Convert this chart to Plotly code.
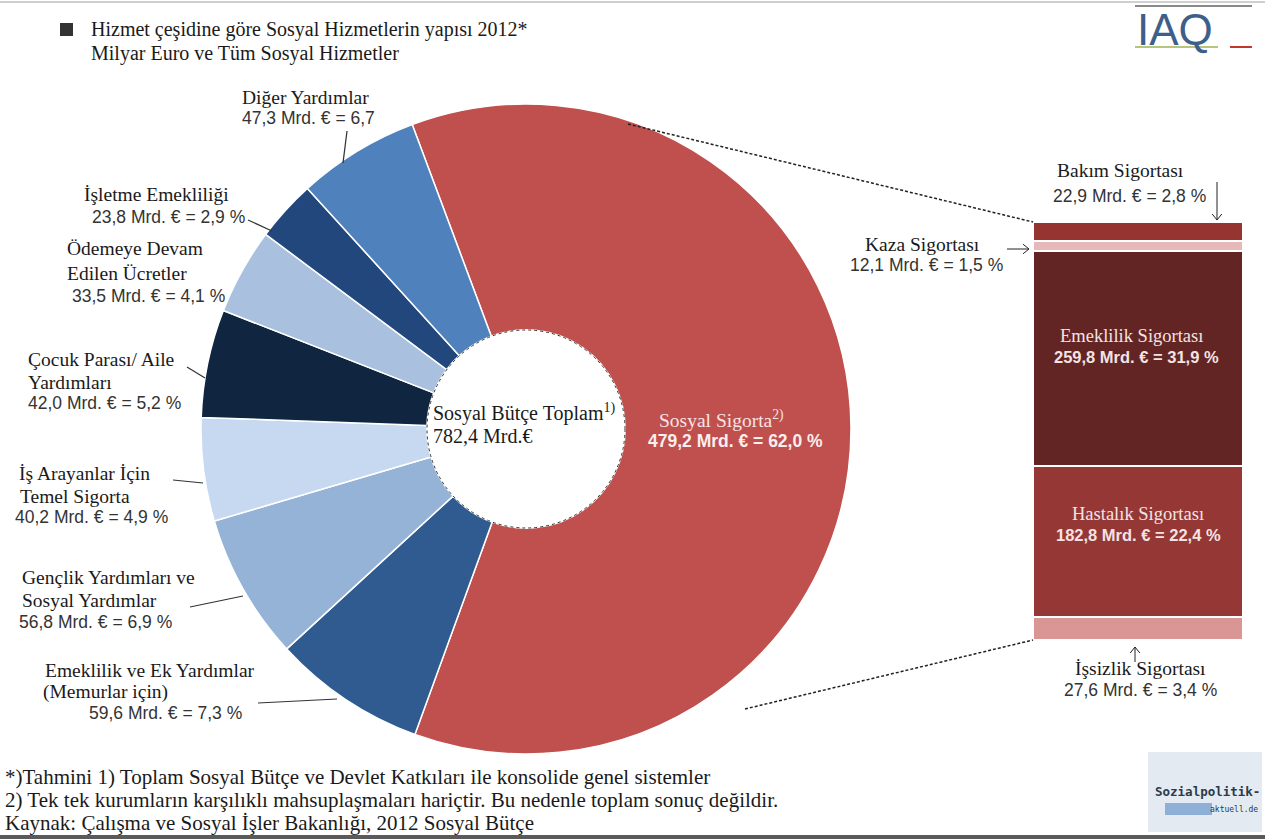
import plotly.graph_objects as go

W, H = 1265, 839

# ---------------- data ----------------
pie_names = [
    ["Sosyal Sigorta"],
    ["Emeklilik ve Ek Yardımlar", "(Memurlar için)"],
    ["Gençlik Yardımları ve", "Sosyal Yardımlar"],
    ["İş Arayanlar İçin", "Temel Sigorta"],
    ["Çocuk Parası/ Aile", "Yardımları"],
    ["Ödemeye Devam", "Edilen Ücretler"],
    ["İşletme Emekliliği"],
    ["Diğer Yardımlar"],
]
pie_values = [479.2, 59.6, 56.8, 40.2, 42.0, 33.5, 23.8, 47.3]
pie_shares = ["62,0 %", "7,3 %", "6,9 %", "4,9 %", "5,2 %", "4,1 %", "2,9 %", "6,7"]
pie_colors = ["#c0504d", "#2f5b91", "#95b3d7", "#c6d9f0", "#10253f", "#a9c1df", "#22477d", "#4f81bd"]

bar_names = ["İşsizlik Sigortası", "Hastalık Sigortası", "Emeklilik Sigortası", "Kaza Sigortası", "Bakım Sigortası"]
bar_values = [27.6, 182.8, 259.8, 12.1, 22.9]
bar_shares = ["3,4 %", "22,4 %", "31,9 %", "1,5 %", "2,8 %"]
bar_colors = ["#d99694", "#953735", "#632523", "#e6b9b8", "#963431"]

total_budget = 782.4

SERIF = "Liberation Serif, Times New Roman, serif"
SANS = "Liberation Sans, Arial, sans-serif"
FS = 19.5   # serif size
NS = 17.5   # sans (numbers) size
BFS = 18.5  # serif size inside bar
BNS = 16.5  # sans size inside bar


def fmt(v):
    return f"{v:.1f}".replace(".", ",")


def px(x, y):
    return x / W, 1 - y / H


fig = go.Figure()

# pie centre (526, 429), radius 325 px
cx, cy, r = 526, 429, 325
x0, y0 = px(cx - r, cy + r)
x1, y1 = px(cx + r, cy - r)
fig.add_trace(go.Pie(
    labels=[" ".join(n) for n in pie_names],
    values=pie_values,
    sort=False,
    direction="clockwise",
    rotation=-20.5,
    hole=0.305,
    marker=dict(colors=pie_colors, line=dict(color="white", width=1.5)),
    textinfo="none",
    hoverinfo="label+value",
    showlegend=False,
    domain=dict(x=[x0, x1], y=[y0, y1]),
))

# stacked bar (right)
for name, val, col in zip(bar_names, bar_values, bar_colors):
    fig.add_trace(go.Bar(
        x=[0], y=[val], name=name, width=1,
        marker=dict(color=col, line=dict(color="white", width=2)),
        showlegend=False, hoverinfo="name+y",
    ))

bx0, by0 = px(1033, 640)
bx1, by1 = px(1243, 222)

layout_annotations = []
shapes = []


def text(x, y, s, size=FS, font=SERIF, color="#1a1a1a", anchor="left", bold=False):
    ax, ay = px(x, y)
    if bold:
        s = "<b>" + s + "</b>"
    layout_annotations.append(dict(
        x=ax, y=ay, xref="paper", yref="paper", text=s, showarrow=False,
        xanchor=anchor, yanchor="middle",
        font=dict(family=font, size=size, color=color),
    ))


def line(xa, ya, xb, yb, color="#333", width=1.2, dash="solid"):
    a = px(xa, ya)
    b = px(xb, yb)
    shapes.append(dict(type="line", xref="paper", yref="paper",
                       x0=a[0], y0=a[1], x1=b[0], y1=b[1],
                       line=dict(color=color, width=width, dash=dash)))


def arrow(xt, yt, xh, yh, head=6):
    # shaft from tail to head, plus an open chevron head
    line(xt, yt, xh, yh, color="#222", width=1)
    dx, dy = xh - xt, yh - yt
    n = (dx * dx + dy * dy) ** 0.5
    ux, uy = dx / n, dy / n
    for s in (1, -1):
        line(xh, yh, xh - head * ux + s * head * 0.8 * uy, yh - head * uy - s * head * 0.8 * ux,
             color="#222", width=1)


def num(v, share):
    return f"{fmt(v)} Mrd. € = {share}"


# ---- title ----
shapes.append(dict(type="rect", xref="paper", yref="paper",
                   x0=px(60, 0)[0], x1=px(73, 0)[0], y0=px(0, 36)[1], y1=px(0, 23)[1],
                   fillcolor="#333", line=dict(width=0)))
text(89, 30, "Hizmet çeşidine göre Sosyal Hizmetlerin yapısı 2012*", size=20)
text(89, 53, "Milyar Euro ve Tüm Sosyal Hizmetler", size=20)

# ---- pie labels ----
# Diğer Yardımlar
text(240, 97, pie_names[7][0])
text(240, 118, num(pie_values[7], pie_shares[7]), size=NS, font=SANS, color="#333")
line(347, 131, 343, 163)
# İşletme Emekliliği
text(82, 194, pie_names[6][0])
text(90, 217, num(pie_values[6], pie_shares[6]), size=NS, font=SANS, color="#333")
line(248, 220, 272, 231)
# Ödemeye
text(65, 248, pie_names[5][0])
text(65, 273, pie_names[5][1])
text(70, 296, num(pie_values[5], pie_shares[5]), size=NS, font=SANS, color="#333")
# Çocuk
text(26, 359, pie_names[4][0])
text(26, 382, pie_names[4][1])
text(26, 403, num(pie_values[4], pie_shares[4]), size=NS, font=SANS, color="#333")
line(187, 367, 205, 378)
# İş Arayanlar
text(17, 473, pie_names[3][0])
text(18, 496, pie_names[3][1])
text(13, 517, num(pie_values[3], pie_shares[3]), size=NS, font=SANS, color="#333")
line(173, 480, 203, 483)
# Gençlik
text(20, 577, pie_names[2][0])
text(20, 600, pie_names[2][1])
text(17, 622, num(pie_values[2], pie_shares[2]), size=NS, font=SANS, color="#333")
line(190, 607, 243, 596)
# Emeklilik ve Ek
text(43, 670, pie_names[1][0])
text(41, 692, pie_names[1][1])
text(87, 713, num(pie_values[1], pie_shares[1]), size=NS, font=SANS, color="#333")
line(258, 703, 337, 699)

# centre of donut
hx0, hy0 = px(cx - 99, cy + 99)
hx1, hy1 = px(cx + 99, cy - 99)
shapes.append(dict(type="circle", xref="paper", yref="paper", x0=hx0, x1=hx1, y0=hy0, y1=hy1,
                   line=dict(color="#333", width=1, dash="dot")))
text(431, 412, "Sosyal Bütçe Toplam<sup>1)</sup>", size=20)
text(431, 436, f"{fmt(total_budget)} Mrd.€", size=20)

# Sosyal Sigorta label
text(657, 419, pie_names[0][0] + "<sup>2)</sup>", color="#f6e4e4")
text(646, 441, num(pie_values[0], pie_shares[0]), size=NS, font=SANS, color="#fbeeee", bold=True)

# ---- bar labels ----
text(1120, 170, bar_names[4], anchor="center")
text(1129, 196, num(bar_values[4], bar_shares[4]), size=NS, font=SANS, color="#333", anchor="center")
arrow(1217, 182, 1217, 220)

text(922, 244, bar_names[3], anchor="center")
text(926, 265, num(bar_values[3], bar_shares[3]), size=NS, font=SANS, color="#333", anchor="center")
arrow(1007, 249, 1029, 249)

text(1131, 336, bar_names[2], size=BFS, color="#f3e3e3", anchor="center")
text(1136, 357, num(bar_values[2], bar_shares[2]), size=BNS, font=SANS, color="#f3e3e3", anchor="center", bold=True)

text(1138, 514, bar_names[1], size=BFS, color="#f3e3e3", anchor="center")
text(1138, 535, num(bar_values[1], bar_shares[1]), size=BNS, font=SANS, color="#f3e3e3", anchor="center", bold=True)

text(1140, 668, bar_names[0], anchor="center")
text(1140, 690, num(bar_values[0], bar_shares[0]), size=NS, font=SANS, color="#333", anchor="center")
arrow(1135, 662, 1135, 647)

# connectors pie -> bar
line(628, 124, 1033, 222, color="#222", width=1.5, dash="3px,2px")
line(745, 709, 1033, 640, color="#222", width=1.5, dash="3px,2px")

# ---- footer ----
text(3, 777, "*)Tahmini 1) Toplam Sosyal Bütçe ve Devlet Katkıları ile konsolide genel sistemler", size=21)
text(3, 800, "2) Tek tek kurumların karşılıklı mahsuplaşmaları hariçtir. Bu nedenle toplam sonuç değildir.", size=21)
text(3, 823, "Kaynak: Çalışma ve Sosyal İşler Bakanlığı, 2012 Sosyal Bütçe", size=21)

# page lines
line(0, 2, W, 2, color="#cfcfcf", width=2)
shapes.append(dict(type="rect", xref="paper", yref="paper", x0=0, x1=1,
                   y0=0, y1=px(0, 835)[1], fillcolor="#5a5a5a", line=dict(width=0)))

# ---- IAQ logo ----
line(1135, 6, 1252, 6, color="#8a8a8a", width=2)
text(1175, 30, "IAQ", size=44, font=SANS, color="#3e5f8c", anchor="center")
line(1135, 47, 1218, 47, color="#b8c47a", width=2)
line(1230, 47, 1252, 47, color="#c0392b", width=2)

# ---- Sozialpolitik logo ----
shapes.append(dict(type="rect", xref="paper", yref="paper",
                   x0=px(1148, 0)[0], x1=px(1262, 0)[0], y0=px(0, 832)[1], y1=px(0, 752)[1],
                   fillcolor="#e4eaf1", line=dict(width=0), layer="below"))
shapes.append(dict(type="rect", xref="paper", yref="paper",
                   x0=px(1165, 0)[0], x1=px(1212, 0)[0], y0=px(0, 815)[1], y1=px(0, 803)[1],
                   fillcolor="#8fb0d6", line=dict(width=0), layer="below"))
text(1262, 791, "Sozialpolitik-", size=12.5, font="DejaVu Sans Mono", color="#2b3a4d", anchor="right", bold=True)
text(1260, 809, "aktuell.de", size=8, font="DejaVu Sans Mono", color="#2b3a4d", anchor="right")

fig.update_layout(
    width=W, height=H,
    margin=dict(l=0, r=0, t=0, b=0),
    paper_bgcolor="white", plot_bgcolor="rgba(0,0,0,0)",
    barmode="stack", bargap=0,
    xaxis=dict(domain=[bx0, bx1], range=[-0.5, 0.5], visible=False, fixedrange=True),
    yaxis=dict(domain=[by0, by1], range=[0, sum(bar_values)], visible=False, fixedrange=True),
    annotations=layout_annotations,
    shapes=shapes,
)

fig.write_html("out.html", config={"displayModeBar": False},
               post_script="document.body.style.margin='0';")
